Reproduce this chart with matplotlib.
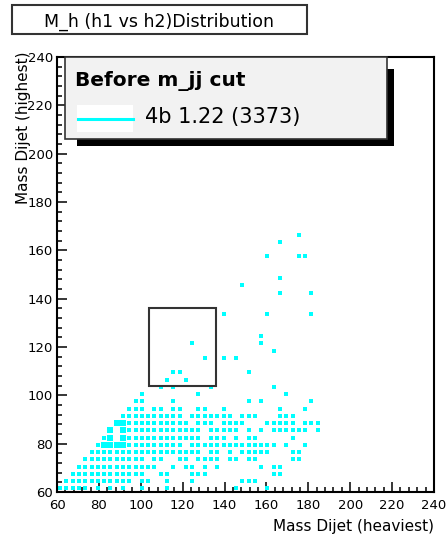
import numpy as np
import matplotlib
matplotlib.use("Agg")
import matplotlib.pyplot as plt
from matplotlib.patches import Rectangle
from matplotlib.lines import Line2D
from matplotlib.ticker import MultipleLocator

plt.rcParams["font.family"] = "DejaVu Sans"

# 2D histogram: 3 GeV bins starting at 60 GeV on both axes
X0, BIN = 60.0, 3.0
CYAN = "#00ffff"

# filled x-bins (heaviest dijet) for each y-bin row (row index = y-bin)
bins_by_row = [
    [0, 1, 2, 3, 4, 6, 8, 10, 13, 17, 28, 33],
    [1, 2, 3, 4, 5, 6, 7, 8, 9, 10, 11, 13, 14, 17, 21, 29, 30, 31],
    [2, 3, 4, 5, 6, 7, 8, 9, 10, 11, 12, 13, 16, 17, 21, 22, 23, 34, 35],
    [3, 4, 5, 6, 7, 8, 9, 10, 11, 12, 13, 14, 15, 18, 20, 21, 23, 25, 32, 34, 35],
    [4, 5, 6, 7, 8, 9, 10, 11, 12, 13, 15, 16, 19, 20, 22, 23, 24, 25, 27, 28,
     30, 31, 37, 38],
    [5, 6, 7, 8, 9, 10, 11, 12, 13, 14, 15, 16, 17, 18, 19, 20, 21, 22, 24, 25,
     27, 29, 30, 31, 32, 33, 37, 38],
    [6, 7, 8, 9, 10, 11, 12, 13, 14, 15, 16, 17, 18, 19, 21, 22, 23, 24, 25, 26,
     27, 28, 29, 30, 31, 32, 33, 34, 36, 39],
    [7, 8, 10, 11, 12, 13, 14, 15, 16, 17, 18, 19, 20, 21, 22, 24, 25, 26, 28,
     30, 31, 37],
    [8, 10, 11, 12, 13, 14, 15, 16, 17, 18, 19, 20, 21, 22, 24, 25, 26, 27, 28,
     30, 32, 34, 35, 36, 37, 38, 39, 41],
    [9, 10, 11, 12, 13, 14, 15, 16, 17, 18, 19, 20, 22, 23, 24, 26, 27, 28, 29,
     33, 34, 35, 36, 37, 39, 40, 41],
    [10, 11, 12, 13, 14, 15, 16, 17, 18, 19, 21, 22, 23, 24, 25, 26, 27, 29, 30,
     31, 35, 36, 37],
    [11, 12, 13, 15, 16, 18, 19, 22, 23, 26, 35, 39],
    [12, 13, 18, 30, 32, 40],
    [13, 22, 36],
    [16, 18, 24, 34],
    [17, 20],
    [18, 19, 30],
    [],
    [23, 26, 28],
    [34],
    [21, 32],
    [32],
    [],
    [],
    [26, 33, 40],
    [],
    [],
    [35, 40],
    [29],
    [35],
    [],
    [],
    [33, 38, 39],
    [],
    [35],
    [38],
]

# high-content bins (x-bin, y-bin) drawn with several markers
heavy_bins = [(7, 6), (8, 6), (9, 6), (10, 6), (8, 7), (10, 7),
              (8, 8), (10, 8), (9, 9), (10, 9)]

# signal window
window_x = (104, 136)
window_y = (104, 136)

title = "M_h (h1 vs h2)Distribution"
legend_header = "Before m_jj cut"
legend_entry = "4b 1.22 (3373)"

W, H = 448, 539
fig = plt.figure(figsize=(W / 100, H / 100), dpi=100)


def fx(px):
    return px / W


def fy(py):
    return 1 - py / H


ax = fig.add_axes([fx(57), fy(492), (434 - 57) / W, (492 - 57) / H])

xs, ys = [], []
for j, row in enumerate(bins_by_row):
    for i in row:
        xs.append(X0 + BIN * (i + 0.5))
        ys.append(X0 + BIN * (j + 0.5))
ax.plot(xs, ys, ls="none", marker="s", ms=2.6, mew=0, color=CYAN)

hx, hy = [], []
for i, j in heavy_bins:
    for dx, dy in [(-0.45, -0.45), (0.45, -0.45), (-0.45, 0.45), (0.45, 0.45)]:
        hx.append(X0 + BIN * (i + 0.5) + dx)
        hy.append(X0 + BIN * (j + 0.5) + dy)
ax.plot(hx, hy, ls="none", marker="s", ms=2.6, mew=0, color=CYAN)

ax.add_patch(Rectangle((window_x[0], window_y[0]), window_x[1] - window_x[0],
                       window_y[1] - window_y[0], fill=False,
                       edgecolor="#333333", lw=1.5, zorder=3))

ax.set_xlim(60, 240)
ax.set_ylim(60, 240)
ax.xaxis.set_major_locator(MultipleLocator(20))
ax.xaxis.set_minor_locator(MultipleLocator(4))
ax.yaxis.set_major_locator(MultipleLocator(20))
ax.yaxis.set_minor_locator(MultipleLocator(4))
ax.tick_params(which="both", direction="in", top=False, right=False,
               width=1.1, color="black")
ax.tick_params(which="major", length=7, labelsize=9.5)
ax.tick_params(which="minor", length=3.5)
ax.tick_params(axis="x", pad=5)
ax.tick_params(axis="y", pad=3)
for s in ax.spines.values():
    s.set_linewidth(1.5)

fig.text(fx(434), fy(527), "Mass Dijet (heaviest)", ha="right", va="center",
         fontsize=11)
fig.text(fx(24), fy(52), "Mass Dijet (highest)", ha="center", va="top",
         rotation=90, fontsize=11)

# title box
fig.add_artist(Rectangle((fx(12), fy(34)), (307 - 12) / W, (34 - 5) / H,
                         transform=fig.transFigure, facecolor="white",
                         edgecolor="#333333", lw=1.5))
fig.text(fx(159), fy(27), title, ha="center", va="baseline", fontsize=12.5)

# legend with shadow
fig.add_artist(Rectangle((fx(387), fy(146)), 7 / W, (146 - 69) / H,
                         transform=fig.transFigure, facecolor="black",
                         edgecolor="none"))
fig.add_artist(Rectangle((fx(77), fy(146)), (394 - 77) / W, 7 / H,
                         transform=fig.transFigure, facecolor="black",
                         edgecolor="none"))
fig.add_artist(Rectangle((fx(65), fy(139)), (387 - 65) / W, (139 - 57) / H,
                         transform=fig.transFigure, facecolor="#f2f2f2",
                         edgecolor="#333333", lw=1.2))
fig.add_artist(Rectangle((fx(77), fy(132)), (133 - 77) / W, (132 - 105) / H,
                         transform=fig.transFigure, facecolor="white",
                         edgecolor="none"))
fig.add_artist(Line2D([fx(78), fx(133)], [fy(119), fy(119)],
                      transform=fig.transFigure, color=CYAN, lw=2.2))
fig.text(fx(75), fy(86), legend_header, ha="left", va="baseline",
         fontsize=14.5, fontweight="bold")
fig.text(fx(145), fy(123), legend_entry, ha="left", va="baseline",
         fontsize=15)

fig.savefig("out.png", dpi=100, facecolor="white")
